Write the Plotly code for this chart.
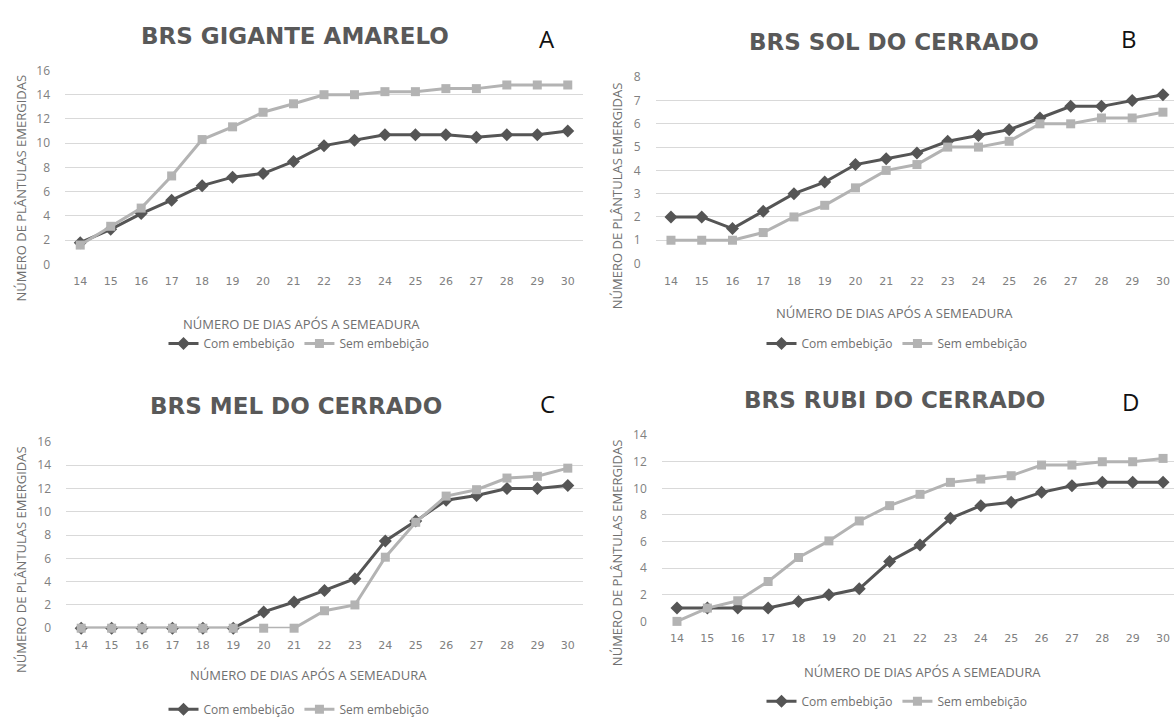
import plotly.graph_objects as go

# ---------------- data ----------------
dias = [14, 15, 16, 17, 18, 19, 20, 21, 22, 23, 24, 25, 26, 27, 28, 29, 30]
series_names = ["Com embebição", "Sem embebição"]
panel_titles = ["BRS GIGANTE AMARELO", "BRS SOL DO CERRADO", "BRS MEL DO CERRADO", "BRS RUBI DO CERRADO"]
panel_letters = ["A", "B", "C", "D"]

A_com = [1.8, 2.9, 4.2, 5.3, 6.5, 7.2, 7.5, 8.5, 9.8, 10.25, 10.7, 10.7, 10.7, 10.5, 10.7, 10.7, 11.0]
A_sem = [1.6, 3.15, 4.65, 7.3, 10.3, 11.35, 12.55, 13.25, 14.0, 14.0, 14.25, 14.25, 14.5, 14.5, 14.8, 14.8, 14.8]
B_com = [2.0, 2.0, 1.5, 2.25, 3.0, 3.5, 4.25, 4.5, 4.75, 5.25, 5.5, 5.75, 6.25, 6.75, 6.75, 7.0, 7.25]
B_sem = [1.0, 1.0, 1.0, 1.33, 2.0, 2.5, 3.25, 4.0, 4.25, 5.0, 5.0, 5.25, 6.0, 6.0, 6.25, 6.25, 6.5]
C_com = [0, 0, 0, 0, 0, 0, 1.4, 2.25, 3.25, 4.25, 7.5, 9.2, 11.0, 11.4, 12.0, 12.0, 12.25]
C_sem = [0, 0, 0, 0, 0, 0, 0, 0, 1.5, 2.0, 6.1, 9.1, 11.35, 11.9, 12.9, 13.05, 13.75]
D_com = [1.0, 1.0, 1.0, 1.0, 1.5, 2.0, 2.45, 4.5, 5.75, 7.75, 8.7, 8.95, 9.7, 10.2, 10.45, 10.45, 10.45]
D_sem = [0.0, 1.0, 1.55, 3.0, 4.8, 6.05, 7.55, 8.7, 9.55, 10.45, 10.7, 10.95, 11.75, 11.75, 12.0, 12.0, 12.25]

y_max = [16, 8, 16, 14]
y_dtick = [2, 1, 2, 2]
y_title = "NÚMERO DE PLÂNTULAS EMERGIDAS"
x_title = "NÚMERO DE DIAS APÓS A SEMEADURA"

# ---------------- layout helpers ----------------
W, H = 1174, 724
def fx(p): return p / W
def fy(p): return 1 - p / H

DARK = "#555555"
LIGHT = "#b3b3b3"
GRID = "#d9d9d9"

# pixel geometry per panel
geo = [
    dict(xd=(65, 583), yd=(63, 262), xr=[13.5, 30.5], title=(295, 28), letter=(547, 30),
         ytitle=(21, 184), xtitle=(301, 323), legend=(299, 343)),
    dict(xd=(655.6, 1174), yd=(70, 261), xr=[13.5, 30.36], title=(894, 34), letter=(1129, 30),
         ytitle=(617, 192), xtitle=(894, 312), legend=(897, 343)),
    dict(xd=(66, 583), yd=(444, 635), xr=[13.5, 30.5], title=(296, 407), letter=(547, 405),
         ytitle=(21, 565), xtitle=(308, 683), legend=(299, 718)),
    dict(xd=(661.8, 1174), yd=(437, 628), xr=[13.5, 30.36], title=(894, 401), letter=(1130, 403),
         ytitle=(617, 558), xtitle=(922, 680), legend=(897, 710)),
]

data_com = [A_com, B_com, C_com, D_com]
data_sem = [A_sem, B_sem, C_sem, D_sem]

fig = go.Figure()
layout = dict(
    width=W, height=H, margin=dict(l=0, r=0, t=0, b=0),
    paper_bgcolor="white", plot_bgcolor="white",
    font=dict(family="Open Sans", color="#7a7a7a"),
    annotations=[],
)

for i in range(4):
    g = geo[i]
    n = "" if i == 0 else str(i + 1)
    leg = "legend" if i == 0 else "legend" + str(i + 1)
    xa, ya = "x" + n, "y" + n
    fig.add_trace(go.Scatter(
        x=dias, y=data_com[i], mode="lines+markers", name=series_names[0],
        xaxis=xa, yaxis=ya, legend=leg, cliponaxis=False,
        line=dict(color=DARK, width=3),
        marker=dict(symbol="diamond", size=10, color=DARK),
    ))
    fig.add_trace(go.Scatter(
        x=dias, y=data_sem[i], mode="lines+markers", name=series_names[1],
        xaxis=xa, yaxis=ya, legend=leg, cliponaxis=False,
        line=dict(color=LIGHT, width=3),
        marker=dict(symbol="square", size=9, color=LIGHT),
    ))
    layout["xaxis" + n] = dict(
        domain=[fx(g["xd"][0]), fx(g["xd"][1])], range=g["xr"], anchor=ya,
        tickmode="array", tickvals=dias, ticktext=[str(d) for d in dias],
        showgrid=False, zeroline=False, showline=False, ticks="",
        tickfont=dict(family="DejaVu Sans", size=11, color="#808080"),
        ticklabelstandoff=9,
    )
    layout["yaxis" + n] = dict(
        domain=[fy(g["yd"][1]), fy(g["yd"][0])], range=[0, y_max[i]], anchor=xa,
        dtick=y_dtick[i], showgrid=True, gridcolor=GRID, gridwidth=1.3,
        zeroline=False, showline=False, ticks="",
        tickfont=dict(family="Open Sans", size=12, color="#808080"),
        ticklabelstandoff=14,
    )
    layout[leg] = dict(
        orientation="h", x=fx(g["legend"][0]), y=fy(g["legend"][1]),
        xanchor="center", yanchor="middle", bgcolor="rgba(0,0,0,0)",
        font=dict(family="Open Sans", size=12, color="#707070"),
        itemwidth=30, tracegroupgap=0,
    )
    ann = layout["annotations"]
    ann.append(dict(text="<b>" + panel_titles[i] + "</b>", x=fx(g["title"][0]), y=fy(g["title"][1]),
                    xref="paper", yref="paper", showarrow=False, xanchor="center", yanchor="middle",
                    font=dict(family="DejaVu Sans", size=23, color="#595959")))
    ann.append(dict(text=panel_letters[i], x=fx(g["letter"][0]), y=fy(g["letter"][1]),
                    xref="paper", yref="paper", showarrow=False, xanchor="center", yanchor="middle",
                    font=dict(family="Open Sans", size=24, color="#111111")))
    ann.append(dict(text=y_title, x=fx(g["ytitle"][0]), y=fy(g["ytitle"][1]), textangle=-90,
                    xref="paper", yref="paper", showarrow=False, xanchor="center", yanchor="middle",
                    font=dict(family="Open Sans", size=13, color="#707070")))
    ann.append(dict(text=x_title, x=fx(g["xtitle"][0]), y=fy(g["xtitle"][1]),
                    xref="paper", yref="paper", showarrow=False, xanchor="center", yanchor="middle",
                    font=dict(family="Open Sans", size=13, color="#707070")))

fig.update_layout(**layout)
fig.write_html("out.html", config={"displayModeBar": False},
               post_script="document.body.style.margin='0';document.body.style.overflow='hidden';")
